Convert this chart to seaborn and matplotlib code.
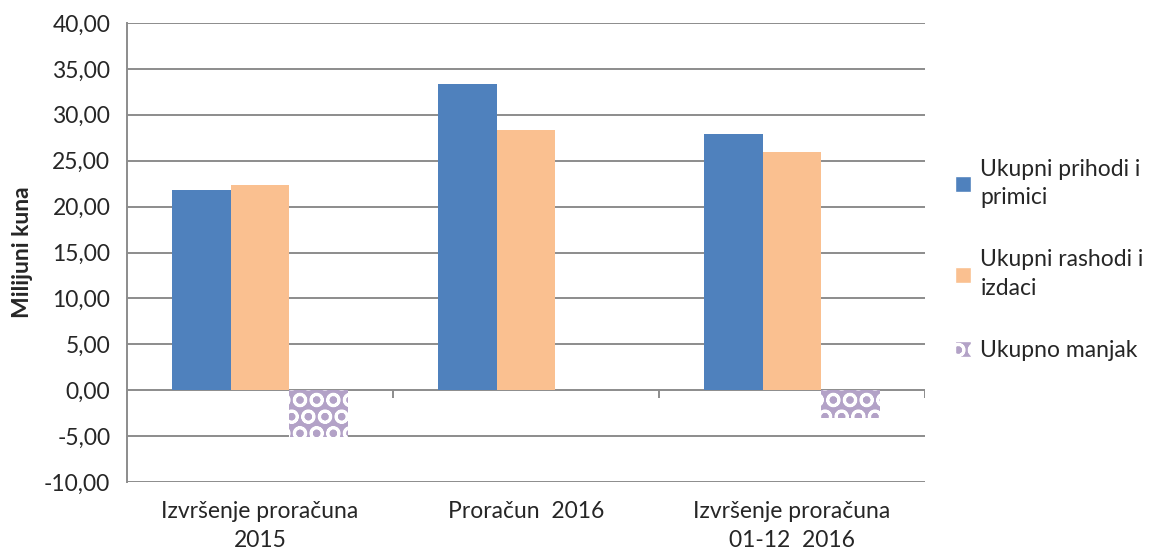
import matplotlib

matplotlib.use("Agg")
import matplotlib.pyplot as plt
import pandas as pd
import seaborn as sns
from matplotlib.patches import Patch
from matplotlib.ticker import FuncFormatter, MultipleLocator

categories = ["Izvršenje proračuna\n2015", "Proračun  2016", "Izvršenje proračuna\n01-12  2016"]
series_names = ["Ukupni prihodi i\nprimici", "Ukupni rashodi i\nizdaci", "Ukupno manjak"]
prihodi = [21.8, 33.4, 27.9]
rashodi = [22.3, 28.3, 25.9]
manjak = [-5.1, 0.0, -3.0]
colors = ["#4f81bd", "#fac090", "#b3a2c7"]

df = pd.DataFrame({
    "kategorija": categories * 3,
    "serija": [series_names[0]] * 3 + [series_names[1]] * 3 + [series_names[2]] * 3,
    "vrijednost": prihodi + rashodi + manjak,
})

sns.set_style("white")
plt.rcParams["font.family"] = ["Lato", "DejaVu Sans"]
plt.rcParams["hatch.linewidth"] = 2.0

fig = plt.figure(figsize=(11.58, 5.59), dpi=100)
ax = fig.add_axes([0.1097, 0.1377, 0.6891, 0.8212])

sns.barplot(data=df, x="kategorija", y="vrijednost", hue="serija",
            palette=colors, width=0.66, ax=ax, legend=False,
            linewidth=0, saturation=1)

# treća serija: šrafirani uzorak
for bar in ax.containers[2]:
    bar.set_facecolor(colors[2])
    bar.set_edgecolor("white")
    bar.set_hatch("O")
    bar.set_linewidth(0)

ax.set_ylim(-10, 40)
ax.set_xlim(-0.5, 2.5)
ax.yaxis.set_major_locator(MultipleLocator(5))
ax.yaxis.set_major_formatter(FuncFormatter(lambda v, _: f"{v:.2f}".replace(".", ",")))
ax.set_axisbelow(True)
ax.grid(axis="y", color="#8c8c8c", linewidth=1.4)

for side in ["top", "right", "bottom"]:
    ax.spines[side].set_visible(False)
ax.spines["left"].set_color("#8c8c8c")
ax.spines["left"].set_linewidth(1.4)

ax.tick_params(axis="y", direction="out", length=6, width=1.4, color="#8c8c8c",
               labelsize=16.5, pad=6)
ax.set_xticks(range(len(categories)))
ax.set_xticklabels(categories, linespacing=1.45)
ax.tick_params(axis="x", length=0, labelsize=16.5, pad=14)

# kratke oznake kategorija ispod nule
ax.vlines([0.5, 1.5, 2.5], 0, -0.8, color="#8c8c8c", linewidth=1.4, zorder=1)

ax.set_xlabel("")
ax.set_ylabel("Milijuni kuna", fontsize=16.5, fontweight="bold", labelpad=8)

handles = [Patch(facecolor=colors[0]), Patch(facecolor=colors[1]),
           Patch(facecolor=colors[2], edgecolor="white", hatch="O")]
leg = fig.legend(handles, series_names, loc="center left", bbox_to_anchor=(0.807, 0.535),
                 frameon=False, fontsize=16.5, handlelength=0.7, handleheight=0.7,
                 handletextpad=0.4, labelspacing=1.8)
for txt in leg.get_texts():
    txt.set_linespacing(1.45)

fig.savefig("out.png", dpi=100)
plt.close(fig)
